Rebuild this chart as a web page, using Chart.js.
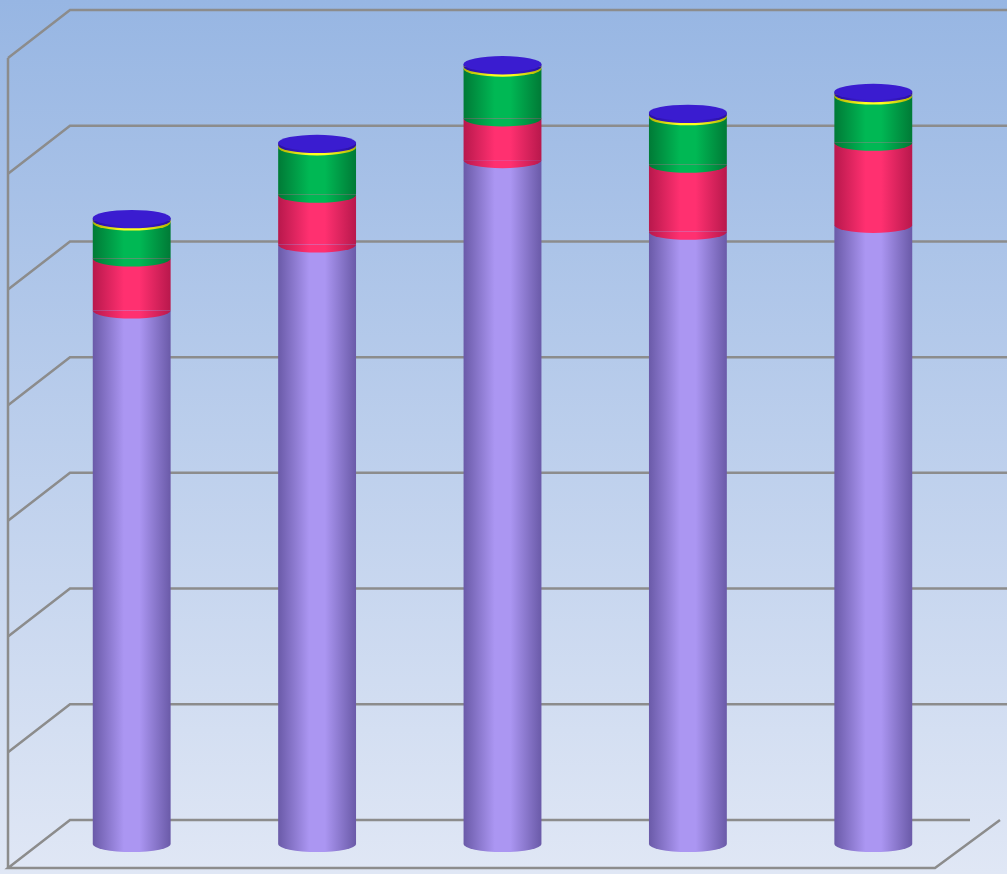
<!DOCTYPE html>
<html><head><meta charset="utf-8">
<script src="https://cdn.jsdelivr.net/npm/chart.js@4/dist/chart.umd.min.js"></script>
<style>html,body{margin:0;padding:0;}body{width:1007px;height:874px;background:linear-gradient(#97b6e3,#e0e7f5);}#w{width:1007px;height:874px;}</style>
</head><body><div id="w"><canvas id="c"></canvas></div>
<script>
const categories = ["1","2","3","4","5"];
const purple = [4.61,5.18,5.91,5.29,5.35];
const red = [0.45,0.43,0.36,0.58,0.71];
const green = [0.31,0.41,0.43,0.41,0.40];
const yellow = [0.02,0.02,0.02,0.02,0.02];
const blue = [0.02,0.02,0.02,0.02,0.02];
const cols = [["#6a5aa8","#ab96f2"],["#b8184c","#ff3070"],["#007a36","#00b854"],["#b0b000","#ffff20"],["#2a10a0","#3a1cd0"]];
function grad(chart,i,di){
  const a=chart.chartArea; if(!a) return cols[di][1];
  const x=chart.scales.x.getPixelForValue(i), w=78;
  const g=chart.ctx.createLinearGradient(x-w/2,0,x+w/2,0);
  g.addColorStop(0,cols[di][0]);g.addColorStop(0.4,cols[di][1]);g.addColorStop(0.6,cols[di][1]);g.addColorStop(1,cols[di][0]);
  return g;
}
const series=[purple,red,green,yellow,blue];
const wall={id:'wall',beforeDatasetsDraw(chart){
  const c=chart.ctx,y=chart.scales.y;c.save();c.strokeStyle="#8c8c8c";c.lineWidth=2.5;
  for(let v=0;v<=7;v++){const p=y.getPixelForValue(v);c.beginPath();
    if(v>0){c.moveTo(1007,p-24);c.lineTo(70,p-24);c.lineTo(8,p+24);}
    else{c.moveTo(970,p-24);c.lineTo(70,p-24);c.lineTo(8,p+24);c.lineTo(935,p+24);c.lineTo(1000,p-24);}
    c.stroke();}
  c.beginPath();c.moveTo(8,y.getPixelForValue(7)+24);c.lineTo(8,y.getPixelForValue(0)+24);c.stroke();c.restore();}};
const caps={id:'caps',afterDatasetsDraw(chart){
  const c=chart.ctx,y=chart.scales.y,x=chart.scales.x;
  categories.forEach((_,i)=>{const cx=x.getPixelForValue(i);let base=0;
    series.forEach((s,di)=>{const yb=y.getPixelForValue(base);c.save();c.beginPath();
      c.ellipse(cx,yb,39,8,0,0,Math.PI);c.fillStyle=grad(chart,i,di);c.fill();c.restore();base+=s[i];});
    const yt=y.getPixelForValue(base);c.beginPath();c.ellipse(cx,yt,39,8,0,0,Math.PI*2);c.fillStyle="#3a1cd0";c.fill();
  });}};
new Chart(document.getElementById('c'),{type:'bar',
 data:{labels:categories,datasets:series.map((s,di)=>({data:s,backgroundColor:ctx=>grad(ctx.chart,ctx.dataIndex,di),borderWidth:0,barPercentage:0.42,categoryPercentage:1}))},
 options:{responsive:true,maintainAspectRatio:false,animation:false,events:[],
  layout:{padding:{left:39,right:41,top:34,bottom:30}},
  plugins:{legend:{display:false},tooltip:{enabled:false}},
  scales:{x:{stacked:true,display:false},y:{stacked:true,display:false,min:0,max:7}}},
 plugins:[wall,caps]});
</script></body></html>
